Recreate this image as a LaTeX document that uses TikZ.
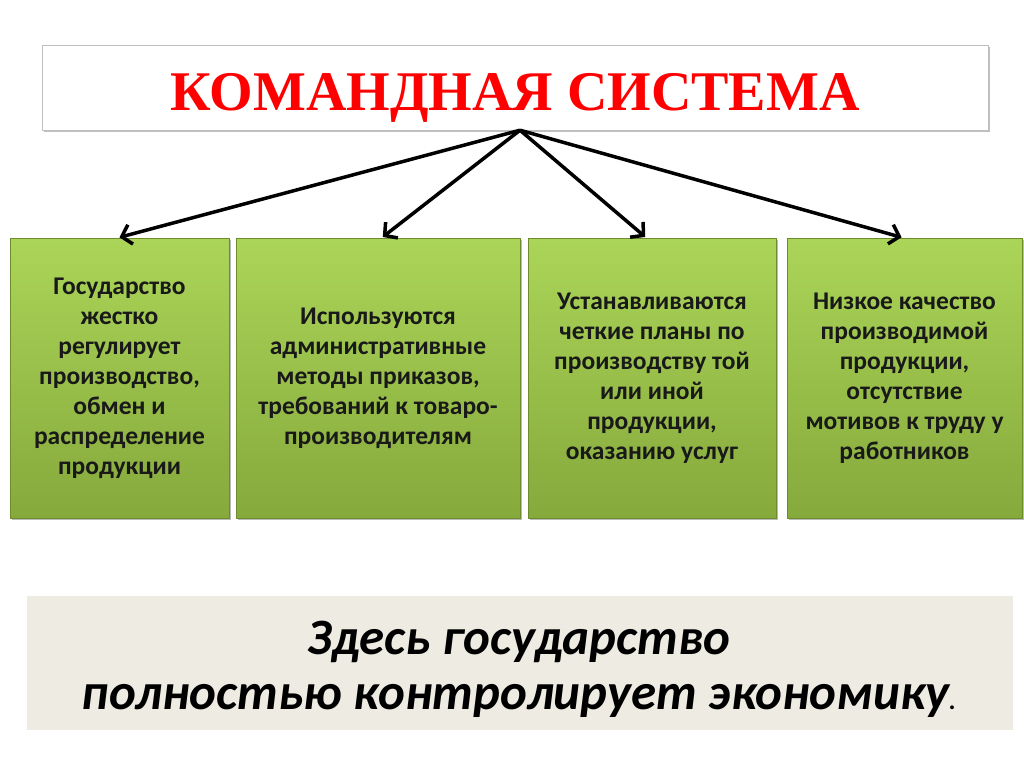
\documentclass[tikz,border=0pt]{standalone}
\usepackage{fontspec}
\setmainfont{Liberation Serif}
\newfontfamily\calfont{Carlito}
\usetikzlibrary{arrows.meta,shadows}
\definecolor{gtop}{HTML}{ABD558}
\definecolor{gbot}{HTML}{86A93C}
\definecolor{gedge}{HTML}{6E8C2E}
\definecolor{bottomfill}{HTML}{EDEBE2}
\definecolor{titlered}{HTML}{FF0000}
\begin{document}
\begin{tikzpicture}[x=1pt,y=-1pt,
  greenbox/.style={draw=gedge,line width=0.8pt,top color=gtop,bottom color=gbot,
    inner sep=0pt,align=center,text=black!90,
    font=\calfont\bfseries\fontsize{25.5}{30}\selectfont,
    drop shadow={shadow xshift=2pt,shadow yshift=-2pt,fill=black!45,opacity=0.6}},
  titlebox/.style={draw=black!25,fill=white,inner sep=0pt,
    drop shadow={shadow xshift=2pt,shadow yshift=-2pt,fill=black!40,opacity=0.6}},
  titletext/.style={font=\bfseries\fontsize{56}{60}\selectfont,text=titlered,inner sep=0pt},
  notebox/.style={fill=bottomfill,inner sep=0pt},
  notetext/.style={inner sep=0pt,align=center,
    font=\calfont\bfseries\itshape\fontsize{51}{55}\selectfont},
  link/.style={line width=3.5pt,black,-{Straight Barb[length=9pt,width=20pt,line width=3.5pt]},shorten >=1pt}]
\useasboundingbox (0,0) rectangle (1024,767);
\fill[white] (0,0) rectangle (1024,767);
% title
\node[titlebox,minimum width=946pt,minimum height=85pt] (title) at (515,87.5) {};
\node[titletext] (titlelabel) at (515,98) {КОМАНДНАЯ СИСТЕМА};
% green boxes
\node[greenbox,minimum width=219pt,minimum height=280pt] (b1) at (119.5,378)
  {Государство\\жестко\\регулирует\\производство,\\обмен и\\распределение\\продукции};
\node[greenbox,minimum width=284pt,minimum height=280pt] (b2) at (378,378)
  {Используются\\административные\\методы приказов,\\требований к товаро-\\производителям};
\node[greenbox,minimum width=248pt,minimum height=280pt] (b3) at (652,378)
  {Устанавливаются\\четкие планы по\\производству той\\или иной\\продукции,\\оказанию услуг};
\node[greenbox,minimum width=235pt,minimum height=280pt] (b4) at (904.5,378)
  {Низкое качество\\производимой\\продукции,\\отсутствие\\мотивов к труду у\\работников};
% arrows
\coordinate (hub) at ([xshift=5pt]title.south);
\draw[link] (hub) -- ([xshift=-1pt]b1.north);
\draw[link] (hub) -- ([xshift=4pt]b2.north);
\draw[link] (hub) -- ([xshift=-6pt]b3.north);
\draw[link] (hub) -- ([xshift=-2pt]b4.north);
% bottom note
\node[notebox,minimum width=986pt,minimum height=134pt] (note) at (520,663) {};
\node[notetext] (notelabel) at (519,669)
  {Здесь государство\\полностью контролирует экономику{\fontsize{26}{26}\selectfont.}};
\end{tikzpicture}
\end{document}
